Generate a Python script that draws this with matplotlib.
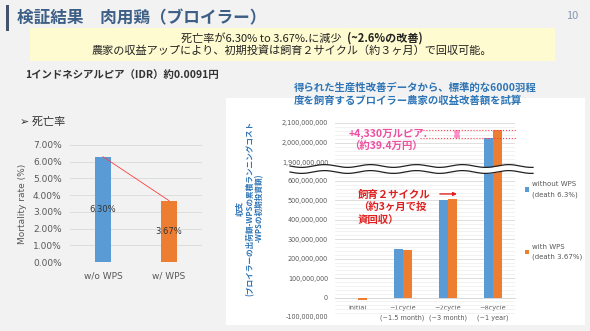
import matplotlib
matplotlib.use("Agg")
import matplotlib.pyplot as plt
import numpy as np
from matplotlib.patches import Rectangle
from matplotlib.ticker import FuncFormatter, MultipleLocator

plt.rcParams['font.family'] = ['Noto Sans CJK JP', 'DejaVu Sans']

# mortality chart
mort_cats = ["w/o WPS", "w/ WPS"]
mort_vals = [0.0630, 0.0367]
mort_ticks = [0.0, 0.01, 0.02, 0.03, 0.04, 0.05, 0.06, 0.07]

# revenue chart (IDR)
cycle_cats = ["Initial", "~1cycle\n(~1.5 month)", "~2cycle\n(~3 month)", "~8cycle\n(~1 year)"]
without_wps = [0, 252e6, 503e6, 2023e6]
with_wps = [-13e6, 245e6, 507e6, 2066.3e6]
lower_ticks = [-1e8, 0, 1e8, 2e8, 3e8, 4e8, 5e8, 6e8]
upper_ticks = [1.9e9, 2.0e9, 2.1e9]

BLUE = '#5b9bd5'
ORANGE = '#ed7d31'
GRAY = '#595959'
GRID = '#d9d9d9'

W, H = 590, 331


def box(x0, y0, x1, y1):
    return [x0 / W, 1 - y1 / H, (x1 - x0) / W, (y1 - y0) / H]


def main():
    fig = plt.figure(figsize=(W / 100, H / 100), dpi=100)
    fig.patch.set_facecolor('#f2f2f2')

    # background layer: panels and slide text
    bg = fig.add_axes([0, 0, 1, 1], zorder=-1)
    bg.set_xlim(0, W)
    bg.set_ylim(H, 0)
    bg.axis('off')
    bg.add_patch(Rectangle((6, 5), 3, 26, color='#44546a', lw=0))
    bg.add_patch(Rectangle((30, 28), 525, 33, color='#fffbd0', lw=0))
    bg.add_patch(Rectangle((226, 98), 359, 227, color='white', lw=0))

    bg.text(17, 18, "検証結果　肉用鶏（ブロイラー）", fontsize=12, fontweight='bold',
            color='#3d5f86', va='center', ha='left')
    bg.text(578, 16, "10", fontsize=8, color='#8497b0', va='center', ha='right')
    bg.text(344, 38, "死亡率が6.30% to 3.67%.に減少 ", fontsize=8, color='#222222',
            va='center', ha='right')
    bg.text(347, 38, "(~2.6%の改善)", fontsize=8, color='#222222', fontweight='bold',
            va='center', ha='left')
    bg.text(292, 51, "農家の収益アップにより、初期投資は飼育２サイクル（約３ヶ月）で回収可能。",
            fontsize=8, color='#222222', va='center', ha='center')
    bg.text(25, 76, "1インドネシアルピア（IDR）約0.0091円", fontsize=7.5, fontweight='bold',
            color='#333333', va='center', ha='left')
    bg.text(20, 122, "➢ 死亡率", fontsize=8, color='#333333', va='center', ha='left')
    bg.text(294, 94, "得られた生産性改善データから、標準的な6000羽程\n度を飼育するブロイラー農家の収益改善額を試算",
            fontsize=7.5, fontweight='bold', color='#2e75b6', va='center', ha='left',
            linespacing=1.25)
    bg.text(250, 208, "収支\n(ブロイラーの出荷額-WPSの累積ランニングコスト\n-WPSの初期投資額)",
            fontsize=5.5, fontweight='bold', color='#2e75b6', va='center', ha='center',
            rotation=90, multialignment='center', linespacing=1.1)

    # mortality chart
    ax1 = fig.add_axes(box(70, 145, 202, 262))
    ax1.set_facecolor('none')
    x1 = np.arange(len(mort_cats))
    bars = ax1.bar(x1, mort_vals, width=0.24, color=[BLUE, ORANGE], zorder=3)
    ax1.bar_label(bars, labels=[f"{v*100:.2f}%" for v in mort_vals], label_type='center',
                  fontsize=6, color='#333333', family='DejaVu Sans')
    ax1.plot(x1, mort_vals, color='#ff4040', lw=0.6, zorder=4)
    ax1.set_xlim(-0.5, 1.5)
    ax1.set_ylim(0, 0.07)
    ax1.set_yticks(mort_ticks)
    ax1.yaxis.set_major_formatter(FuncFormatter(lambda v, p: f"{v*100:.2f}%"))
    ax1.set_xticks(x1)
    ax1.set_xticklabels(mort_cats)
    ax1.tick_params(length=0, labelsize=6.5, labelcolor=GRAY)
    ax1.tick_params(axis='y', pad=6)
    ax1.tick_params(axis='x', pad=7)
    for lab in ax1.get_xticklabels() + ax1.get_yticklabels():
        lab.set_family('DejaVu Sans')
    ax1.grid(axis='y', color=GRID, lw=0.6, zorder=0)
    for s in ax1.spines.values():
        s.set_visible(False)
    ax1.set_ylabel("Mortality rate (%)", fontsize=6.5, color=GRAY, family='DejaVu Sans',
                   labelpad=4)

    # revenue chart with broken axis
    axt = fig.add_axes(box(335, 123, 515, 168))
    axl = fig.add_axes(box(335, 172, 515, 317))
    xc = np.arange(len(cycle_cats))
    for ax in (axt, axl):
        ax.set_facecolor('none')
        ax.bar(xc - 0.1, without_wps, width=0.2, color=BLUE, zorder=3,
               label="without WPS\n(death 6.3%)")
        ax.bar(xc + 0.1, with_wps, width=0.2, color=ORANGE, zorder=3,
               label="with WPS\n(death 3.67%)")
        ax.set_xlim(-0.5, 3.5)
        ax.yaxis.set_major_formatter(FuncFormatter(lambda v, p: f"{v:,.0f}"))
        ax.yaxis.set_minor_locator(MultipleLocator(2e7))
        ax.grid(axis='y', which='major', color=GRID, lw=0.6, zorder=0)
        ax.grid(axis='y', which='minor', color='#ededed', lw=0.5, zorder=0)
        ax.tick_params(axis='y', which='both', length=0, labelsize=4.7, labelcolor=GRAY, pad=5)
        for s in ax.spines.values():
            s.set_visible(False)
        for lab in ax.get_yticklabels():
            lab.set_family('DejaVu Sans')

    axt.set_ylim(1.875e9, 2.1e9)
    axt.set_yticks(upper_ticks)
    axt.set_xticks([])
    axl.set_ylim(-1e8, 6.46e8)
    axl.set_yticks(lower_ticks)
    axl.spines['bottom'].set_visible(True)
    axl.spines['bottom'].set_position(('data', 0))
    axl.spines['bottom'].set_color(GRID)
    axl.spines['bottom'].set_linewidth(0.6)
    axl.set_xticks(xc)
    axl.set_xticklabels(cycle_cats)
    axl.tick_params(axis='x', length=0, labelsize=4.7, labelcolor=GRAY, pad=5)
    for lab in axl.get_xticklabels():
        lab.set_family('DejaVu Sans')
        lab.set_linespacing(1.7)

    # difference markers on the 8-cycle bars
    for v in (without_wps[3], with_wps[3]):
        axt.plot([1.39, 3.54], [v, v], color='#ff3b50', lw=0.8, ls=':', clip_on=False, zorder=4)
    axt.annotate("", xy=(2.21, with_wps[3]), xytext=(2.21, without_wps[3]),
                 arrowprops=dict(arrowstyle='<|-|>', color='#ff8fc8', lw=2.5,
                                 mutation_scale=5, shrinkA=0, shrinkB=0))
    axl.annotate("", xy=(2.21, 5.33e8), xytext=(1.83, 5.33e8),
                 arrowprops=dict(arrowstyle='-|>', color='#e02020', lw=1,
                                 mutation_scale=5, shrinkA=0, shrinkB=0))

    leg = axl.legend(loc='upper left', bbox_to_anchor=(519 / W, 1 - 175 / H),
                     bbox_transform=fig.transFigure, frameon=False,
                     labelcolor=GRAY, handlelength=0.6, handleheight=0.6,
                     handletextpad=0.35, labelspacing=6.6,
                     prop={'family': 'DejaVu Sans', 'size': 5.0})
    for t in leg.get_texts():
        t.set_linespacing(1.8)

    # foreground layer: axis break and callouts
    fg = fig.add_axes([0, 0, 1, 1], zorder=5)
    fg.set_xlim(0, W)
    fg.set_ylim(H, 0)
    fg.axis('off')
    wx = np.linspace(290, 533, 300)
    wave = 1.4 * np.sin(2 * np.pi * (wx - 290) / 46)
    fg.fill_between(wx, 166 + wave, 172 + wave, color='white', lw=0)
    fg.plot(wx, 166 + wave, color='#222222', lw=0.9)
    fg.plot(wx, 172 + wave, color='#222222', lw=0.9)

    fg.text(349, 140, "+4,330万ルピア.\n（約39.4万円）", fontsize=7.5, fontweight='bold',
            color='#ee4fa0', va='center', ha='left', linespacing=1.35)
    fg.text(358, 207, "飼育２サイクル\n（約3ヶ月で投\n資回収）", fontsize=7.5, fontweight='bold',
            color='#e02020', va='center', ha='left', linespacing=1.3)

    fig.savefig("out.png", dpi=100, facecolor=fig.get_facecolor())


if __name__ == "__main__":
    main()
